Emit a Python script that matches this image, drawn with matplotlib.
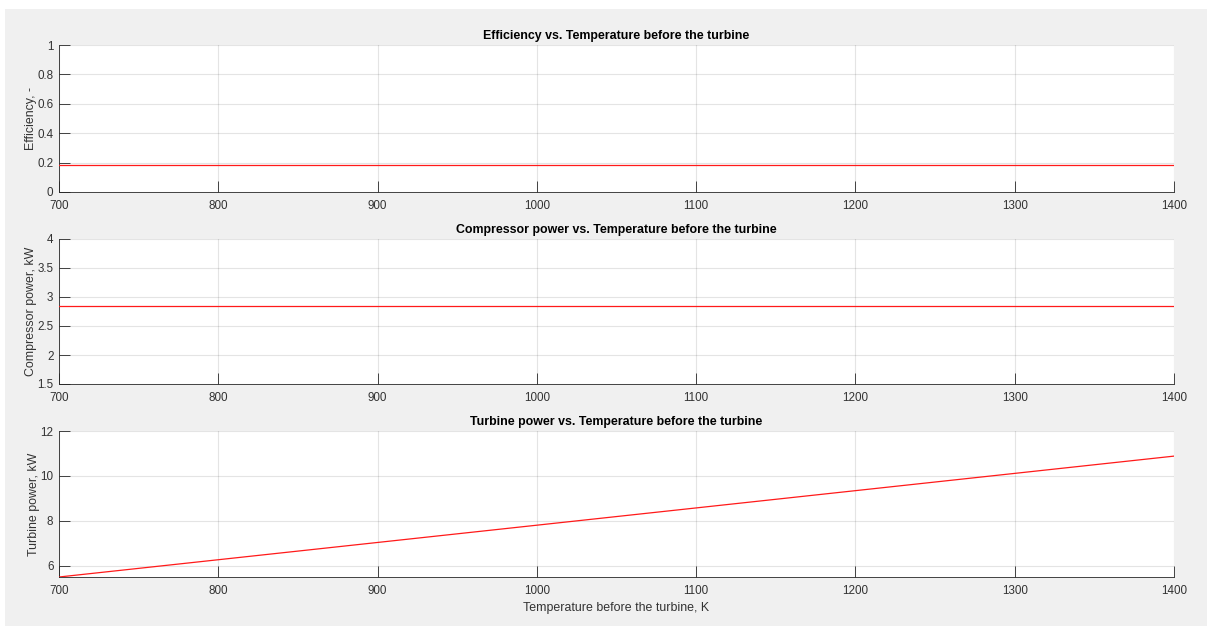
import matplotlib
matplotlib.use("Agg")
import matplotlib.pyplot as plt
from matplotlib.patches import Rectangle

plt.rcParams['font.family'] = ['Liberation Sans', 'DejaVu Sans']

temperature = [700, 800, 900, 1000, 1100, 1200, 1300, 1400]
efficiency = [0.186, 0.186, 0.186, 0.186, 0.186, 0.186, 0.186, 0.186]
compressor_power = [2.85, 2.85, 2.85, 2.85, 2.85, 2.85, 2.85, 2.85]
turbine_power = [5.49, 6.26, 7.03, 7.80, 8.57, 9.34, 10.11, 10.88]

xticks = [700, 800, 900, 1000, 1100, 1200, 1300, 1400]
eff_yticks = [0, 0.2, 0.4, 0.6, 0.8, 1]
eff_ylabels = ['0', '0.2', '0.4', '0.6', '0.8', '1']
comp_yticks = [1.5, 2, 2.5, 3, 3.5, 4]
comp_ylabels = ['1.5', '2', '2.5', '3', '3.5', '4']
turb_yticks = [6, 8, 10, 12]
turb_ylabels = ['6', '8', '10', '12']

titles = ['Efficiency vs. Temperature before the turbine',
          'Compressor power vs. Temperature before the turbine',
          'Turbine power vs. Temperature before the turbine']
ylabels = ['Efficiency, -', 'Compressor power, kW', 'Turbine power, kW']
xlabel = 'Temperature before the turbine, K'

W, H = 1207, 626
fig = plt.figure(figsize=(W / 100, H / 100), dpi=100)
fig.patch.set_facecolor('white')
fig.patches.append(Rectangle((5 / W, 0), 1 - 5 / W, 1 - 9 / H, transform=fig.transFigure,
                             facecolor='#f0f0f0', edgecolor='none', zorder=-10))

left, right = 59, 1174
boxes = [(45, 192), (239, 384), (431, 577)]
series = [efficiency, compressor_power, turbine_power]
ylims = [(0, 1), (1.5, 4), (5.49, 12)]
yt = [(eff_yticks, eff_ylabels), (comp_yticks, comp_ylabels), (turb_yticks, turb_ylabels)]

axc = '#262626'
lblc = '#333333'
for i, (top, bot) in enumerate(boxes):
    ax = fig.add_axes([left / W, 1 - bot / H, (right - left) / W, (bot - top) / H])
    ax.set_facecolor('white')
    ax.plot(temperature, series[i], color='#ff1a1a', lw=0.9, zorder=3)
    ax.set_xlim(700, 1400)
    ax.set_ylim(*ylims[i])
    ax.set_xticks(xticks)
    ax.set_xticklabels([str(t) for t in xticks])
    ax.set_yticks(yt[i][0])
    ax.set_yticklabels(yt[i][1])
    ax.grid(True, color='#262626', alpha=0.12, lw=0.8)
    ax.set_axisbelow(True)
    for s in ['top', 'right']:
        ax.spines[s].set_visible(False)
    for s in ['left', 'bottom']:
        ax.spines[s].set_color(axc)
        ax.spines[s].set_linewidth(0.6)
    ax.tick_params(direction='in', length=7.6, width=0.6, color=axc,
                   labelcolor=lblc, labelsize=8.4)
    ax.tick_params(axis='x', pad=6)
    ax.tick_params(axis='y', pad=4)
    ax.set_title(titles[i], fontsize=8.9, fontweight='bold', color='black', pad=4)
    ax.set_ylabel(ylabels[i], fontsize=8.9, color=lblc, labelpad=0)
    if i == 2:
        ax.set_xlabel(xlabel, fontsize=8.9, color=lblc, labelpad=3)

fig.savefig('out.png', dpi=100, facecolor=fig.get_facecolor())
